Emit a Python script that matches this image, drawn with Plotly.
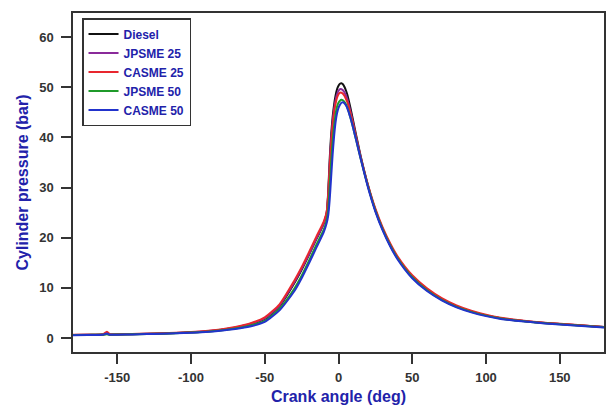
import plotly.graph_objects as go

crank_angle = [-180, -170, -160, -157, -155, -150, -140, -130, -120, -110, -100, -90, -80, -70,
               -60, -50, -40, -30, -25, -20, -15, -10, -8, -7, -6, -5, -4, -3, -2, -1, 0, 1, 2, 3,
               4, 5, 6, 8, 10, 12, 15, 20, 25, 30, 35, 40, 50, 60, 70, 80, 90, 100, 110, 120,
               140, 160, 180]

diesel = [0.6, 0.63, 0.67, 0.8, 0.69, 0.71, 0.76, 0.83, 0.9, 1.0, 1.12, 1.3, 1.6, 2.05,
          2.7, 3.8, 6.3, 10.9, 13.6, 16.6, 19.7, 22.8, 25.0, 29.0, 35.5, 40.5, 44.0, 46.5, 48.3, 49.6, 50.3, 50.7, 50.8, 50.6,
          50.1, 49.4, 48.5, 46.0, 43.2, 40.4, 36.3, 30.4, 25.5, 21.7, 18.6, 16.0, 12.2, 9.6, 7.7, 6.3, 5.3, 4.5, 3.95, 3.55,
          3.0, 2.6, 2.2]

jpsme25 = [0.6, 0.63, 0.67, 0.85, 0.69, 0.71, 0.76, 0.83, 0.91, 1.01, 1.14, 1.33, 1.63, 2.1,
           2.78, 3.9, 6.45, 11.1, 13.8, 16.7, 19.8, 22.9, 25.0, 28.5, 34.5, 39.5, 43.0, 45.6, 47.4, 48.6, 49.3, 49.6, 49.6, 49.4,
           49.0, 48.4, 47.6, 45.3, 42.7, 40.0, 36.1, 30.3, 25.5, 21.7, 18.6, 16.0, 12.2, 9.6, 7.7, 6.3, 5.3, 4.5, 3.95, 3.55,
           3.0, 2.6, 2.2]

casme25 = [0.62, 0.65, 0.69, 1.25, 0.72, 0.73, 0.78, 0.86, 0.95, 1.05, 1.18, 1.38, 1.7, 2.2,
           2.9, 4.1, 6.7, 11.4, 14.1, 17.1, 20.2, 23.2, 25.2, 28.5, 34.0, 38.8, 42.4, 45.0, 46.7, 47.9, 48.6, 48.9, 48.9, 48.7,
           48.3, 47.7, 47.0, 44.9, 42.5, 39.9, 36.1, 30.5, 25.8, 22.0, 18.9, 16.3, 12.5, 9.9, 7.95, 6.5, 5.45, 4.65, 4.05, 3.65,
           3.05, 2.65, 2.2]

jpsme50 = [0.58, 0.61, 0.65, 0.75, 0.66, 0.68, 0.73, 0.8, 0.86, 0.96, 1.08, 1.25, 1.5, 1.9,
           2.45, 3.4, 5.8, 9.8, 12.4, 15.4, 18.6, 21.6, 23.5, 25.5, 30.0, 35.0, 39.0, 42.3, 44.6, 46.1, 46.9, 47.3, 47.5, 47.4,
           47.1, 46.6, 45.9, 44.0, 41.8, 39.4, 35.8, 30.2, 25.4, 21.6, 18.5, 15.9, 12.1, 9.5, 7.6, 6.2, 5.2, 4.45, 3.9, 3.5,
           2.95, 2.55, 2.15]

casme50 = [0.56, 0.59, 0.63, 0.9, 0.64, 0.66, 0.71, 0.78, 0.84, 0.93, 1.05, 1.2, 1.45, 1.8,
           2.3, 3.2, 5.5, 9.3, 11.9, 14.9, 18.0, 21.1, 22.9, 24.4, 27.5, 32.0, 36.5, 40.2, 43.0, 44.8, 45.9, 46.5, 46.9, 47.0,
           46.8, 46.4, 45.8, 44.0, 41.8, 39.4, 35.8, 30.0, 25.2, 21.4, 18.3, 15.7, 11.9, 9.35, 7.5, 6.1, 5.1, 4.35, 3.8, 3.45,
           2.9, 2.5, 2.1]

series_names = ["Diesel", "JPSME 25", "CASME 25", "JPSME 50", "CASME 50"]
series_values = [diesel, jpsme25, casme25, jpsme50, casme50]
series_colors = ["#111111", "#8a2a9a", "#e8262e", "#1f9a2a", "#2233cc"]

x_ticks = [-150, -100, -50, 0, 50, 100, 150]
y_ticks = [0, 10, 20, 30, 40, 50, 60]

fig = go.Figure()
for name, vals, col in zip(series_names, series_values, series_colors):
    fig.add_trace(go.Scatter(x=crank_angle, y=vals, name=f"<b>{name}</b>", mode="lines",
                             line=dict(color=col, width=2, shape="spline", smoothing=0.6)))

axis_font = dict(family="Liberation Sans", size=13, color="#333333")
title_font = dict(family="Liberation Sans", size=16, color="#2222aa")

fig.update_layout(
    width=608, height=405,
    margin=dict(l=73, r=4, t=13, b=53),
    paper_bgcolor="white", plot_bgcolor="white",
    showlegend=True,
    legend=dict(x=0.017, y=0.985, xanchor="left", yanchor="top",
                bordercolor="#333333", borderwidth=1.5, bgcolor="white",
                font=dict(family="Liberation Sans", size=12, color="#2222aa"),
                itemwidth=30, tracegroupgap=0),
    xaxis=dict(range=[-180, 180], tickvals=x_ticks, ticktext=[f"<b>{v}</b>" for v in x_ticks],
               ticks="outside", ticklen=10, tickwidth=1.5, tickcolor="#333333",
               showline=True, linecolor="#333333", linewidth=1.5, mirror=True, automargin=False,
               showgrid=False, zeroline=False, tickfont=axis_font, ticklabelstandoff=3,
               title=dict(text="<b>Crank angle (deg)</b>", font=title_font, standoff=8)),
    yaxis=dict(range=[-2.8, 64.8], tickvals=y_ticks, ticktext=[f"<b>{v}</b>" for v in y_ticks],
               ticks="outside", ticklen=10, tickwidth=1.5, tickcolor="#333333",
               showline=True, linecolor="#333333", linewidth=1.5, mirror=True, automargin=False,
               showgrid=False, zeroline=False, tickfont=axis_font, ticklabelstandoff=5,
               title=dict(text="<b>Cylinder pressure (bar)</b>", font=title_font, standoff=7)),
)

fig.write_html("out.html")
